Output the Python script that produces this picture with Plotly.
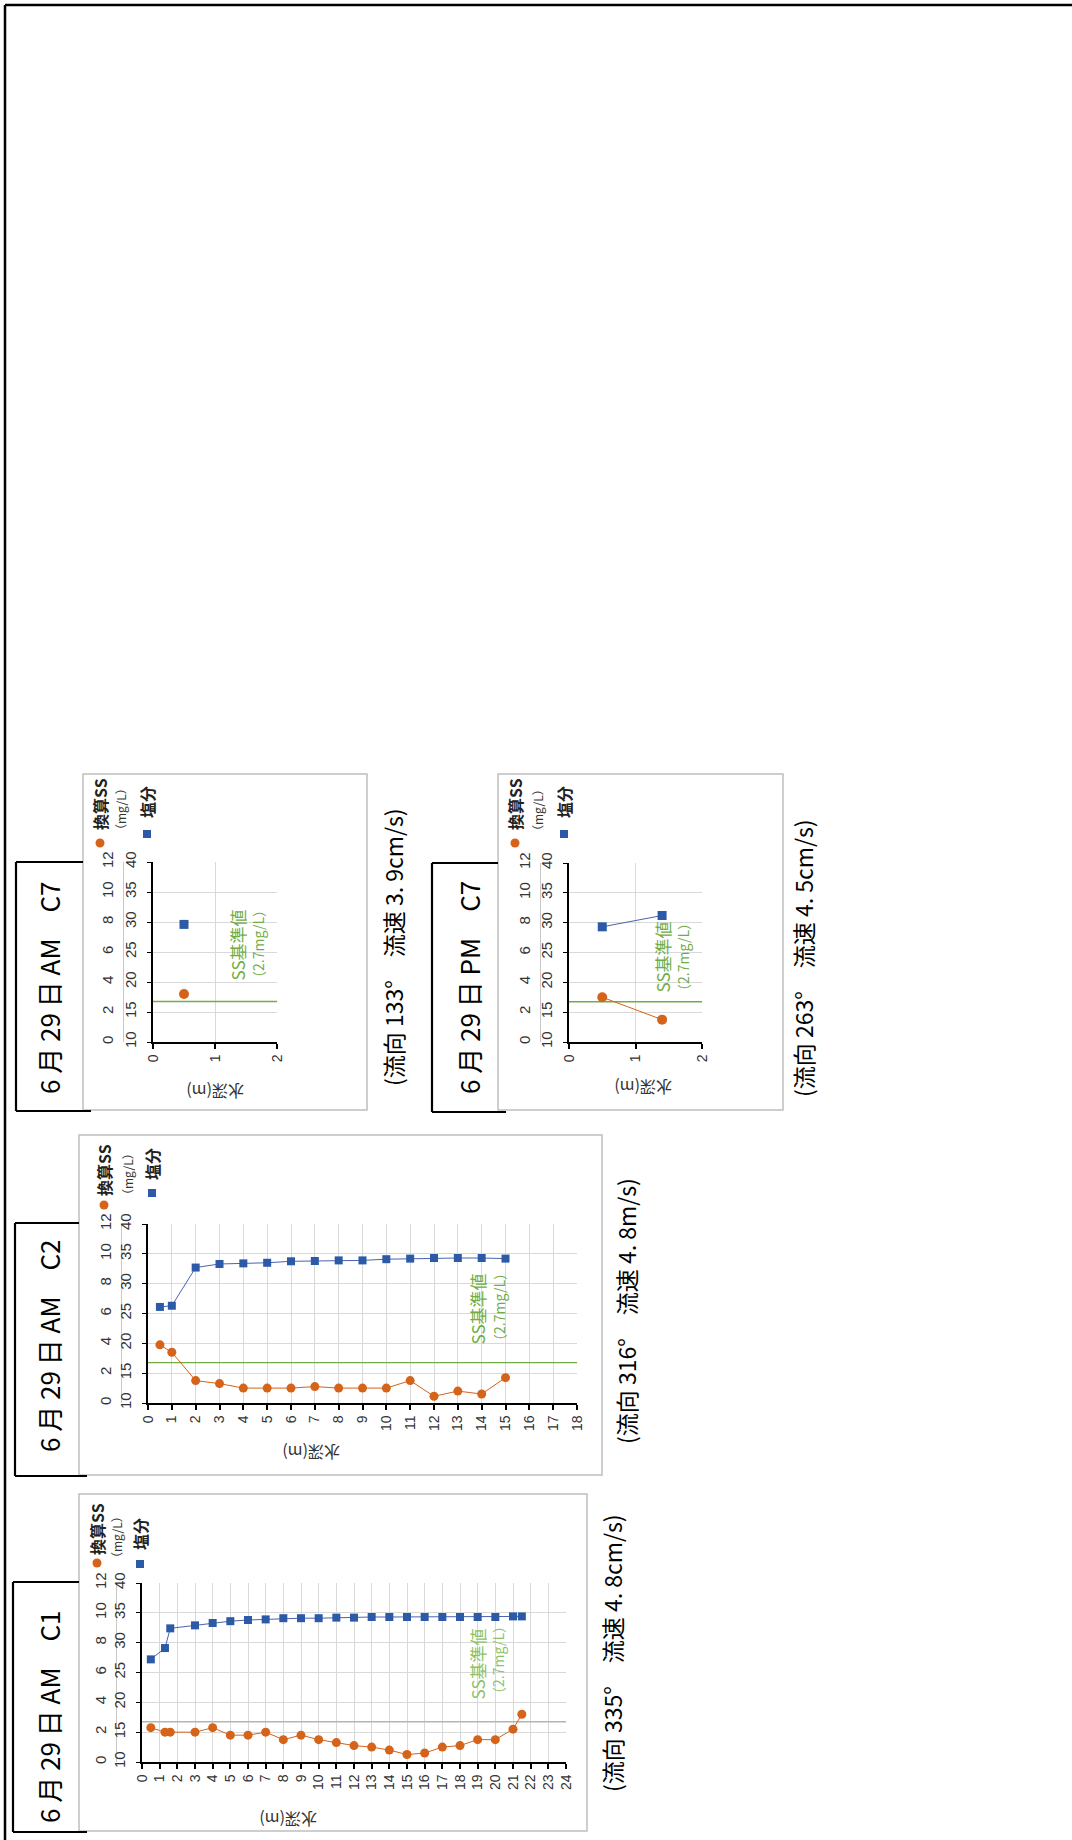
import plotly.graph_objects as go

W, H = 1072, 1840

# ---------------- data ----------------
c1_depth = [0.5, 1.3, 1.6, 3, 4, 5, 6, 7, 8, 9, 10, 11, 12, 13, 14, 15, 16, 17, 18, 19, 20, 21, 21.5]
c1_ss = [2.3, 2.0, 2.0, 2.0, 2.3, 1.8, 1.8, 2.0, 1.5, 1.8, 1.5, 1.3, 1.1, 1.0, 0.8, 0.5, 0.6, 1.0, 1.1, 1.5, 1.5, 2.2, 3.2]
c1_sal = [27.2, 29.1, 32.4, 32.9, 33.3, 33.6, 33.8, 33.9, 34.1, 34.1, 34.1, 34.2, 34.2, 34.3, 34.3, 34.3, 34.3, 34.3, 34.3, 34.3, 34.3, 34.4, 34.4]

c2_depth = [0.5, 1, 2, 3, 4, 5, 6, 7, 8, 9, 10, 11, 12, 13, 14, 15]
c2_ss = [3.9, 3.4, 1.5, 1.3, 1.0, 1.0, 1.0, 1.1, 1.0, 1.0, 1.0, 1.5, 0.45, 0.8, 0.6, 1.7]
c2_sal = [26.1, 26.3, 32.7, 33.3, 33.4, 33.5, 33.75, 33.8, 33.9, 33.9, 34.1, 34.2, 34.3, 34.3, 34.3, 34.2]

c7am_depth = [0.5]
c7am_ss = [3.2]
c7am_sal = [29.6]

c7pm_depth = [0.5, 1.4]
c7pm_ss = [3.0, 1.5]
c7pm_sal = [29.3, 31.2]

ss_standard = 2.7
depth_max = [24, 18, 2, 2]
ss_range = [0, 12]
sal_range = [10, 40]

titles = ["6 月 29 日 AM　C1", "6 月 29 日 AM　C2", "6 月 29 日 AM　C7", "6 月 29 日 PM　C7"]
footers = ["(流向 335°　流速 4. 8cm/s)", "(流向 316°　流速 4. 8m/s)",
           "(流向 133°　流速 3. 9cm/s)", "(流向 263°　流速 4. 5cm/s)"]
legend_ss = "換算SS"
legend_unit = "（mg/L）"
legend_sal = "塩分"
std_label1 = "SS基準値"
std_label2 = "（2.7mg/L）"
depth_title = "水深(m)"

series = [
    (c1_depth, c1_ss, c1_sal),
    (c2_depth, c2_ss, c2_sal),
    (c7am_depth, c7am_ss, c7am_sal),
    (c7pm_depth, c7pm_ss, c7pm_sal),
]

# ---------------- layout geometry (pixels) ----------------
layout_px = [
    dict(frame=(79, 1494, 587, 1831), plot=(142, 1583, 566, 1762), ssx=116,
         box=(13, 1582, 1832), title=(48, 1717), footer=(612, 1653), axtitle=(288, 1820),
         leg=dict(circ=(97, 1563), ss_txt=(97, 1557), unit=(116, 1537), sq=(140, 1564), sal_txt=(140, 1552)),
         std=((477, 1702), (498, 1703)), stdcolor="#b4b4b4", stdtext="#8cc168", msize=8),
    dict(frame=(79, 1135, 602, 1475), plot=(148, 1224, 577, 1403), ssx=121,
         box=(15, 1223, 1476), title=(48, 1346), footer=(626, 1311), axtitle=(311, 1453),
         leg=dict(circ=(104, 1205), ss_txt=(104, 1198), unit=(127, 1174), sq=(152, 1193), sal_txt=(152, 1182)),
         std=((477, 1347), (499, 1350)), stdcolor="#70ad47", stdtext="#70ad47", msize=8),
    dict(frame=(83, 774, 367, 1110), plot=(153, 862, 277, 1042), ssx=123,
         box=(16, 862, 1111), title=(48, 988), footer=(393, 947), axtitle=(215, 1092),
         leg=dict(circ=(100, 843), ss_txt=(100, 832), unit=(120, 809), sq=(147, 834), sal_txt=(147, 820)),
         std=((237, 983), (258, 987)), stdcolor="#70ad47", stdtext="#70ad47", msize=9),
    dict(frame=(498, 774, 783, 1110), plot=(569, 863, 702, 1042), ssx=540,
         box=(432, 863, 1112), title=(468, 988), footer=(803, 958), axtitle=(643, 1088),
         leg=dict(circ=(515, 843), ss_txt=(515, 832), unit=(537, 810), sq=(564, 834), sal_txt=(564, 820)),
         std=((662, 995), (683, 1000)), stdcolor="#70ad47", stdtext="#70ad47", msize=9),
]

ORANGE = "#d5631a"
BLUE = "#2d5aa6"
BLUE_LINE = "#4a63b0"
GRID = "#d9d9d9"
TICKC = "#333333"
JP = "Noto Sans CJK JP"
LAT = "Liberation Sans, Arial"


def fx(x):
    return x / W


def fy(y):
    return 1 - y / H


fig = go.Figure()
shapes = []
annotations = []

# page border (top & left)
shapes.append(dict(type="line", xref="paper", yref="paper", x0=fx(5), x1=fx(1072), y0=fy(5), y1=fy(5),
                   line=dict(color="black", width=2.5), layer="below"))
shapes.append(dict(type="line", xref="paper", yref="paper", x0=fx(5), x1=fx(5), y0=fy(5), y1=fy(1840),
                   line=dict(color="black", width=2.5), layer="below"))

lay = {}
for k, (g, (dep, ss, sal)) in enumerate(zip(layout_px, series)):
    xn = "x" if k == 0 else f"x{k+1}"
    ssn = "y" if k == 0 else f"y{2*k+1}"
    saln = f"y{2*k+2}"
    xkey = "xaxis" if k == 0 else f"xaxis{k+1}"
    sskey = "yaxis" if k == 0 else f"yaxis{2*k+1}"
    salkey = f"yaxis{2*k+2}"
    pl, pt, pr, pb = g["plot"]

    # chart frame
    fl, ft, fr, fb = g["frame"]
    shapes.append(dict(type="rect", xref="paper", yref="paper", x0=fx(fl), x1=fx(fr), y0=fy(fb), y1=fy(ft),
                       line=dict(color="#bfbfbf", width=1.5), fillcolor="white", layer="below"))
    # title box
    bl, bt, bb = g["box"]
    for (x0, y0, x1, y1) in [(bl, bt, bl, bb), (bl, bt, fl, bt), (bl, bb, fl + 8, bb)]:
        shapes.append(dict(type="line", xref="paper", yref="paper", x0=fx(x0), x1=fx(x1), y0=fy(y0), y1=fy(y1),
                           line=dict(color="black", width=2.2), layer="below"))

    lay[xkey] = dict(domain=[fx(pl), fx(pr)], anchor=saln, range=[0, depth_max[k]], dtick=1,
                     showgrid=True, gridcolor=GRID, gridwidth=1, showline=True, linecolor="black",
                     linewidth=1.5, ticks="outside", ticklen=5, tickcolor="black", tickwidth=1.5,
                     tickangle=-90, tickfont=dict(family=LAT, size=14, color=TICKC), zeroline=False,
                     fixedrange=True, automargin=False)
    lay[sskey] = dict(domain=[fy(pb), fy(pt)], anchor="free", position=fx(g["ssx"]), range=ss_range,
                      dtick=2, showgrid=False, showline=True, linecolor="#c8c8c8", linewidth=1,
                      ticks="", tickangle=-90, tickfont=dict(family=LAT, size=15, color=TICKC),
                      zeroline=False, ticklabelstandoff=4, fixedrange=True, automargin=False)
    lay[salkey] = dict(overlaying=ssn, anchor=xn, side="left", range=sal_range, dtick=5,
                       showgrid=True, gridcolor=GRID, gridwidth=1, showline=True, linecolor="black",
                       linewidth=1.5, ticks="outside", ticklen=4, tickcolor="black",
                       tickangle=-90, tickfont=dict(family=LAT, size=15, color=TICKC),
                       zeroline=False, ticklabelstandoff=5, fixedrange=True, automargin=False)

    # SS standard (2.7 mg/L) line
    shapes.append(dict(type="line", xref=xn, yref=ssn, x0=0, x1=depth_max[k], y0=ss_standard, y1=ss_standard,
                       line=dict(color=g["stdcolor"], width=1.3), layer="between"))

    fig.add_trace(go.Scatter(x=dep, y=sal, xaxis=xn, yaxis=saln, mode="lines+markers",
                             line=dict(color=BLUE_LINE, width=1),
                             marker=dict(symbol="square", size=g["msize"], color=BLUE),
                             showlegend=False, cliponaxis=False))
    fig.add_trace(go.Scatter(x=dep, y=ss, xaxis=xn, yaxis=ssn, mode="lines+markers",
                             line=dict(color=ORANGE, width=1),
                             marker=dict(symbol="circle", size=g["msize"] + 1, color=ORANGE),
                             showlegend=False, cliponaxis=False))

    tx, ty = g["title"]
    annotations.append(dict(text=titles[k], x=fx(tx), y=fy(ty), xref="paper", yref="paper",
                            textangle=-90, showarrow=False, xanchor="center", yanchor="middle",
                            font=dict(family=JP, size=26, color="black")))
    fx_, fy_ = g["footer"]
    annotations.append(dict(text=footers[k], x=fx(fx_), y=fy(fy_), xref="paper", yref="paper",
                            textangle=-90, showarrow=False, xanchor="center", yanchor="middle",
                            font=dict(family=JP, size=23, color="black")))
    ax_, ay_ = g["axtitle"]
    annotations.append(dict(text=depth_title, x=fx(ax_), y=fy(ay_), xref="paper", yref="paper",
                            textangle=180, showarrow=False, xanchor="center", yanchor="middle",
                            font=dict(family=JP, size=16, color=TICKC)))
    L = g["leg"]
    cx, cy = L["circ"]
    shapes.append(dict(type="circle", xref="paper", yref="paper", x0=fx(cx - 4.5), x1=fx(cx + 4.5),
                       y0=fy(cy + 4.5), y1=fy(cy - 4.5), fillcolor=ORANGE, line=dict(width=0)))
    sx, sy = L["sq"]
    shapes.append(dict(type="rect", xref="paper", yref="paper", x0=fx(sx - 4), x1=fx(sx + 4),
                       y0=fy(sy + 4), y1=fy(sy - 4), fillcolor=BLUE, line=dict(width=0)))
    x_, y_ = L["ss_txt"]
    annotations.append(dict(text=legend_ss, x=fx(x_), y=fy(y_), xref="paper", yref="paper",
                            textangle=-90, showarrow=False, xanchor="center", yanchor="bottom",
                            font=dict(family=JP, size=16, color="#222222", weight="bold")))
    x_, y_ = L["unit"]
    annotations.append(dict(text=legend_unit, x=fx(x_), y=fy(y_), xref="paper", yref="paper",
                            textangle=-90, showarrow=False, xanchor="center", yanchor="middle",
                            font=dict(family=JP, size=12, color="#333333")))
    x_, y_ = L["sal_txt"]
    annotations.append(dict(text=legend_sal, x=fx(x_), y=fy(y_), xref="paper", yref="paper",
                            textangle=-90, showarrow=False, xanchor="center", yanchor="bottom",
                            font=dict(family=JP, size=16, color="#222222", weight="bold")))
    (s1x, s1y), (s2x, s2y) = g["std"]
    annotations.append(dict(text=std_label1, x=fx(s1x), y=fy(s1y), xref="paper", yref="paper",
                            textangle=-90, showarrow=False, xanchor="center", yanchor="bottom",
                            font=dict(family=JP, size=17, color=g["stdtext"])))
    annotations.append(dict(text=std_label2, x=fx(s2x), y=fy(s2y), xref="paper", yref="paper",
                            textangle=-90, showarrow=False, xanchor="center", yanchor="bottom",
                            font=dict(family=JP, size=14, color=g["stdtext"])))

fig.update_layout(
    width=W, height=H, autosize=False,
    margin=dict(l=0, r=0, t=0, b=0, pad=0, autoexpand=False),
    paper_bgcolor="white", plot_bgcolor="rgba(0,0,0,0)",
    showlegend=False, shapes=shapes, annotations=annotations,
    **lay,
)

# remove the browser's default 8px body margin synchronously (inline data-URL script, no network)
fig.write_html("out.html", config={"displayModeBar": False},
               include_mathjax="data:text/javascript,document.body.style.margin='0px';//.js")
